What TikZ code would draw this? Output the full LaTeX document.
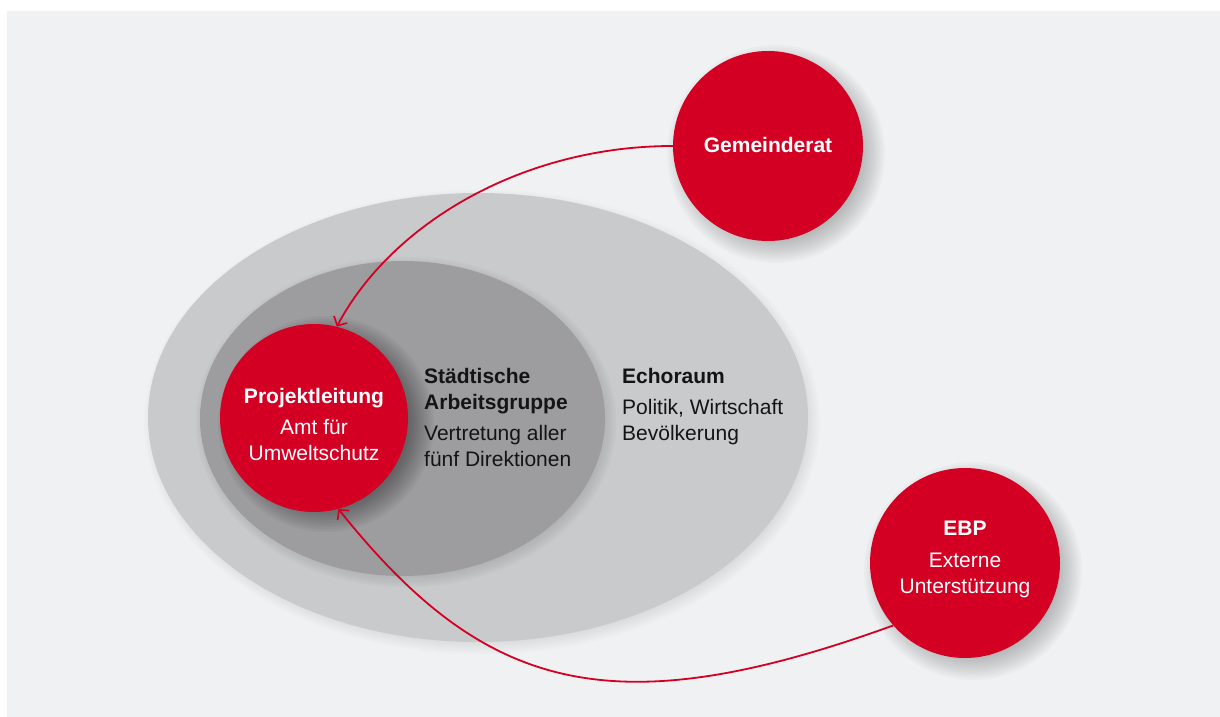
\documentclass[tikz,border=0pt]{standalone}
\usepackage{fontspec}
\setmainfont{Liberation Sans}
\usetikzlibrary{arrows.meta}
\definecolor{ebpred}{RGB}{212,0,36}
\definecolor{bggray}{RGB}{240,241,243}
\definecolor{outergray}{RGB}{201,202,204}
\definecolor{innergray}{RGB}{157,157,159}
\definecolor{txtdark}{RGB}{20,20,20}
\newcommand\circshadow[6]{% x y r dx dy opacity
  \foreach \k in {0,...,11}{
    \pgfmathsetmacro\rr{#3+14-2.4*\k}
    \fill[black,opacity=#6] (#1+#4,#2+#5) circle[radius=\rr pt];
  }}
\tikzset{
  redcircle/.style={circle,fill=ebpred,inner sep=0pt},
  bodyfont/.style={font=\fontsize{21}{26}\selectfont},
  whitetext/.style={bodyfont,text=white,inner sep=0pt,align=center},
  darktext/.style={bodyfont,text=txtdark,inner sep=0pt,align=left},
  flow/.style={ebpred,line width=1.8pt,-{Straight Barb[length=7pt,width=15pt,line width=1.6pt]}}
}
\begin{document}
\begin{tikzpicture}[x=1pt,y=-1pt]
\useasboundingbox (0,0) rectangle (1220,717);
\fill[white] (0,0) rectangle (1220,717);
\fill[bggray] (7,11) rectangle (1220,717);
% Echoraum ellipse
\foreach \k in {0,...,7}{
  \fill[black,opacity=0.012] (482,422) ellipse[x radius={(330+8-2*\k)*1pt}, y radius={(224.5+8-2*\k)*1pt}];
}
\fill[outergray] (478,417.5) ellipse[x radius=330pt, y radius=224.5pt];
% Arbeitsgruppe ellipse
\foreach \k in {0,...,7}{
  \fill[black,opacity=0.015] (406,422) ellipse[x radius={(202.5+8-2*\k)*1pt}, y radius={(157.5+8-2*\k)*1pt}];
}
\fill[innergray] (402.5,418.5) ellipse[x radius=202.5pt, y radius=157.5pt];
% shadows of circles
\circshadow{314}{418}{94}{12}{6}{0.035}
\circshadow{768}{146}{95}{8}{8}{0.022}
\circshadow{965}{563}{95}{8}{8}{0.022}
% circles
\node[redcircle,minimum size=188pt] (pl) at (314,418) {};
\node[redcircle,minimum size=190pt] (gem) at (768,146) {};
\node[redcircle,minimum size=190pt] (ebp) at (965,563) {};
% texts
\node[whitetext,anchor=north] (pltext) at (314,388) {\textbf{Projektleitung}\\[5pt]Amt für\\Umweltschutz};
\node[whitetext,anchor=base] (gemtext) at (768,152) {\textbf{Gemeinderat}};
\node[whitetext,anchor=north] (ebptext) at (965,521) {\textbf{EBP}\\[6pt]Externe\\Unterstützung};
\node[darktext,anchor=north west] (agtext) at (424,368) {\textbf{Städtische}\\\textbf{Arbeitsgruppe}\\[5pt]Vertretung aller\\fünf Direktionen};
\node[darktext,anchor=north west] (ectext) at (622,368) {\textbf{Echoraum}\\[5pt]Politik, Wirtschaft\\Bevölkerung};
% connectors
\draw[flow] (gem.west) .. controls (523,146) and (392,223) .. (pl.76);
\draw[flow] (ebp.221) .. controls (610,728) and (484,691) .. (pl.285);
\end{tikzpicture}
\end{document}
